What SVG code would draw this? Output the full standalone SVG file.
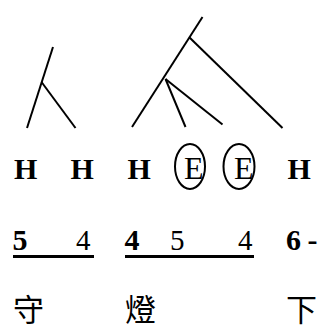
<svg xmlns="http://www.w3.org/2000/svg" width="321" height="327" viewBox="0 0 321 327">
<style>
.ln{stroke:#000;stroke-width:2;fill:none;stroke-linecap:butt}
.hb{font-family:"Liberation Serif","Times New Roman",serif;font-weight:bold;font-size:30px;fill:#000}
.rg{font-family:"Liberation Serif","Times New Roman",serif;font-size:29px;fill:#000}
.re{font-family:"Liberation Serif","Times New Roman",serif;font-size:32px;fill:#000}
.cj{font-family:"Liberation Serif","Noto Sans CJK TC",serif;font-size:31px;fill:#000}
.el{stroke:#000;stroke-width:2;fill:none}
.ul{stroke:#000;stroke-width:3}
</style>
<g id="connectors">
<line class="ln" x1="53" y1="47" x2="27" y2="128"/>
<line class="ln" x1="41.5" y1="82" x2="75.5" y2="128"/>
<line class="ln" x1="202.5" y1="17" x2="132" y2="127"/>
<line class="ln" x1="189.5" y1="37.5" x2="282.5" y2="128"/>
<line class="ln" x1="165.5" y1="79" x2="185.5" y2="127"/>
<line class="ln" x1="165.5" y1="79" x2="222.5" y2="124.5"/>
</g>
<g id="h1"><text class="hb" x="14" y="179">H</text></g>
<g id="h2"><text class="hb" x="70.5" y="179">H</text></g>
<g id="h3"><text class="hb" x="127.5" y="179">H</text></g>
<g id="e1"><ellipse class="el" cx="190" cy="166.5" rx="15" ry="22.5"/><text class="re" x="184" y="179">E</text></g>
<g id="e2"><ellipse class="el" cx="239" cy="166.5" rx="15.5" ry="22.5"/><text class="re" x="234" y="179">E</text></g>
<g id="h4"><text class="hb" x="287.5" y="179">H</text></g>
<g id="nums">
<text class="hb" x="12.5" y="250">5</text>
<text class="rg" x="76" y="250">4</text>
<text class="hb" x="124.5" y="250">4</text>
<text class="rg" x="170" y="250">5</text>
<text class="rg" x="238" y="250">4</text>
<text class="hb" x="286" y="250">6</text>
<text class="hb" x="307.5" y="250">-</text>
<line class="ul" x1="13" y1="256.5" x2="94" y2="256.5"/>
<line class="ul" x1="125" y1="256.5" x2="254" y2="256.5"/>
</g>
<g id="chars">
<text class="cj" x="13" y="321">守</text>
<text class="cj" x="125" y="321">燈</text>
<text class="cj" x="286" y="321">下</text>
</g>
</svg>
